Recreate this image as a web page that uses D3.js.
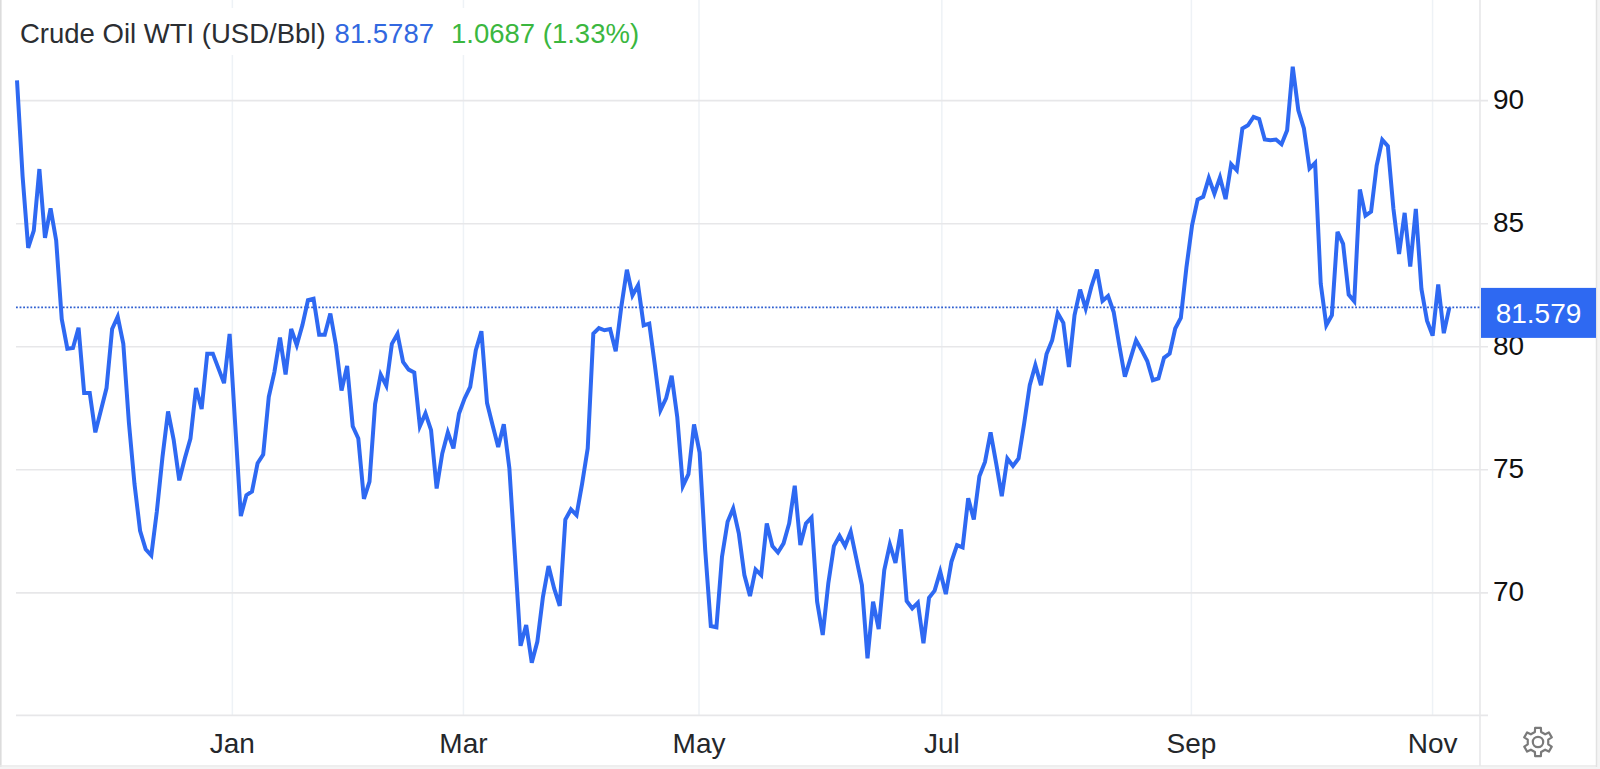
<!DOCTYPE html>
<html>
<head>
<meta charset="utf-8">
<script src="https://cdn.jsdelivr.net/npm/d3@7"></script>
<style>
html,body{margin:0;padding:0;background:#fff;overflow:hidden}
svg{display:block}
text{font-family:"Liberation Sans",Arial,sans-serif}
</style>
</head>
<body>
<svg id="chart" width="1600" height="769"></svg>
<script>
const titleName = "Crude Oil WTI (USD/Bbl)";
const titlePrice = "81.5787";
const titleChange = "1.0687 (1.33%)";
const lastLabel = "81.579";
const lastValue = 81.5787;
const yTicks = [70, 75, 80, 85, 90];
const monthLabels = ["Jan", "Mar", "May", "Jul", "Sep", "Nov"];
const monthPositions = [38.4, 79.7, 121.8, 165.2, 209.8, 252.9];
const prices = [
90.8,86.9,84.0,84.7,87.2,84.4,85.6,84.3,81.1,79.9,79.93,80.75,78.1,78.1,76.5,77.4,78.3,80.7,81.2,80.1,
76.9,74.4,72.5,71.75,71.5,73.3,75.5,77.35,76.2,74.55,75.45,76.25,78.3,77.45,79.7,79.7,79.1,78.5,80.5,76.8,
73.1,73.95,74.1,75.25,75.6,77.95,78.95,80.35,78.85,80.7,80.05,80.85,81.87,81.93,80.47,80.47,81.33,80.05,78.2,79.2,
76.75,76.25,73.8,74.5,77.65,78.85,78.4,80.1,80.5,79.36,79.05,78.93,76.75,77.27,76.59,74.22,75.64,76.5,75.85,77.27,
77.88,78.35,79.84,80.61,77.7,76.79,75.91,76.83,75.03,71.45,67.83,68.67,67.14,68.0,69.82,71.07,70.16,69.45,72.96,73.37,
73.14,74.42,75.85,80.51,80.74,80.65,80.7,79.8,81.6,83.11,82.07,82.48,80.85,80.92,79.23,77.4,77.88,78.8,77.13,74.32,
74.8,76.82,75.68,71.72,68.63,68.58,71.45,72.87,73.41,72.4,70.7,69.85,70.93,70.7,72.8,71.88,71.62,71.99,72.8,74.33,
71.92,72.8,73.04,69.62,68.27,70.37,71.88,72.29,71.88,72.46,71.38,70.3,67.32,69.62,68.51,70.91,71.95,71.2,72.56,69.65,
69.35,69.58,67.93,69.78,70.07,70.84,69.93,71.24,71.92,71.83,73.82,72.96,74.72,75.3,76.5,75.24,73.91,75.44,75.14,75.44,
76.86,78.42,79.23,78.42,79.68,80.24,81.35,80.95,79.16,81.26,82.3,81.53,82.41,83.11,81.84,82.04,81.39,80.04,78.76,79.5,
80.24,79.84,79.4,78.62,78.69,79.53,79.7,80.72,81.15,83.2,84.9,85.96,86.07,86.84,86.2,86.86,85.98,87.4,87.15,88.85,
88.98,89.32,89.23,88.4,88.37,88.4,88.21,88.78,91.36,89.59,88.85,87.22,87.45,82.55,80.85,81.26,84.65,84.16,82.1,81.83,
86.37,85.31,85.47,87.34,88.39,88.13,85.58,83.75,85.42,83.24,85.58,82.33,81.04,80.43,82.51,80.53,81.58
];

const blue = "#2e69f2", grid = "#e7e7e9", vgrid = "#eef2f6";
const svg = d3.select("#chart");
const x = d3.scaleLinear().domain([0, prices.length - 1]).range([17, 1449.4]);
const y = d3.scaleLinear().domain([65, 94]).range([715.4, 1.7]);
const plotRight = 1480, tickEnd = 1488, plotLeft = 16;

// outer page frame
svg.append("rect").attr("x", 1597).attr("width", 3).attr("height", 769).attr("fill", "#f4f4f4");
svg.append("rect").attr("y", 767).attr("width", 1600).attr("height", 2).attr("fill", "#f4f4f4");
svg.append("line").attr("x1", 0.8).attr("x2", 0.8).attr("y1", 0).attr("y2", 767).attr("stroke", "#dcdcdc").attr("stroke-width", 1.6);
svg.append("line").attr("x1", 0).attr("x2", 1597).attr("y1", 766).attr("y2", 766).attr("stroke", "#e8e8e8").attr("stroke-width", 1.5);
svg.append("line").attr("x1", 1596.5).attr("x2", 1596.5).attr("y1", 0).attr("y2", 767).attr("stroke", "#e2e2e2").attr("stroke-width", 1.5);

// x axis with vertical grid
const gx = svg.append("g").attr("transform", `translate(0,${y(65)})`)
  .call(d3.axisBottom(x).tickValues(monthPositions)
    .tickFormat((d, i) => monthLabels[i]).tickSize(-y(65)).tickPadding(18));
gx.select(".domain").remove();
gx.selectAll("line").attr("stroke", vgrid).attr("stroke-width", 1.5);
gx.selectAll("text").attr("fill", "#24272b").attr("font-size", 28);

// y axis with horizontal grid
const gy = svg.append("g").attr("transform", `translate(${tickEnd},0)`)
  .call(d3.axisRight(y).tickValues(yTicks).tickSize(-(tickEnd - plotLeft)).tickPadding(5));
gy.select(".domain").remove();
gy.selectAll("line").attr("stroke", grid).attr("stroke-width", 1.6);
gy.selectAll("text").attr("fill", "#111").attr("font-size", 28).attr("dy", "0.29em");

// baseline and axis separator
svg.append("line").attr("x1", plotLeft).attr("x2", tickEnd).attr("y1", y(65)).attr("y2", y(65)).attr("stroke", grid).attr("stroke-width", 1.6);
svg.append("line").attr("x1", plotRight).attr("x2", plotRight).attr("y1", 0).attr("y2", 766).attr("stroke", grid).attr("stroke-width", 1.6);

// last value line
svg.append("line").attr("x1", plotLeft).attr("x2", plotRight).attr("y1", y(lastValue)).attr("y2", y(lastValue))
  .attr("stroke", "#2f5fd0").attr("stroke-width", 1.6).attr("stroke-dasharray", "1.8 1.8");

// series
svg.append("path").datum(prices)
  .attr("fill", "none").attr("stroke", blue).attr("stroke-width", 4)
  .attr("stroke-linejoin", "miter").attr("stroke-miterlimit", 4)
  .attr("d", d3.line().x((d, i) => x(i)).y(d => y(d)));

// last value tag
svg.append("rect").attr("x", 1481).attr("y", y(lastValue) - 19.5).attr("width", 115).attr("height", 50).attr("fill", blue);
svg.append("text").attr("x", 1538.5).attr("y", y(lastValue) + 6).attr("dy", "0.35em")
  .attr("text-anchor", "middle").attr("fill", "#fff").attr("font-size", 28).text(lastLabel);

// title
svg.append("rect").attr("x", 4).attr("y", 8).attr("width", 660).attr("height", 47).attr("fill", "#fff");
const t = svg.append("text").attr("x", 20).attr("y", 43).attr("font-size", 27.5);
t.append("tspan").attr("fill", "#2b2e32").text(titleName);
t.append("tspan").attr("fill", "#3268e0").attr("dx", 9).text(titlePrice);
t.append("tspan").attr("fill", "#3bb73f").attr("dx", 17).text(titleChange);

// settings gear
const gearPts = [];
for (let k = 0; k < 6; k++) {
  const a = k * Math.PI / 3 - Math.PI / 2;
  [[-0.30, 10.5], [-0.20, 14.5], [0.20, 14.5], [0.30, 10.5]].forEach(([da, r]) => {
    gearPts.push([r * Math.cos(a + da), r * Math.sin(a + da)]);
  });
}
const gear = svg.append("g").attr("transform", "translate(1538,742)").attr("fill", "none").attr("stroke", "#7a7a7a").attr("stroke-width", 2.2);
gear.append("path").attr("stroke-linejoin", "round").attr("d", d3.line().curve(d3.curveLinearClosed)(gearPts));
gear.append("circle").attr("r", 5.2);
</script>
</body>
</html>
